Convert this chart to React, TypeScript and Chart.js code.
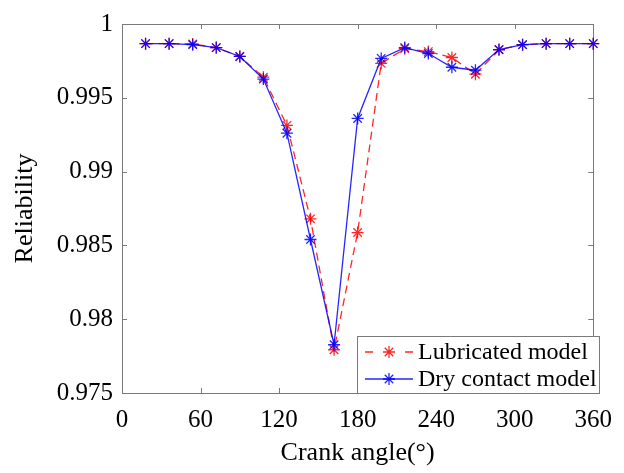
import React, { useEffect, useRef } from "react";
import { Chart, registerables } from "chart.js";

Chart.register(...registerables);

const crankAngles = [18, 36, 54, 72, 90, 108, 126, 144, 162, 180, 198, 216, 234, 252, 270, 288, 306, 324, 342, 360];
const lubricated = [0.99867, 0.99867, 0.99865, 0.9984, 0.9978, 0.9964, 0.99313, 0.9868, 0.97793, 0.98587, 0.99733, 0.99833, 0.99813, 0.99773, 0.9966, 0.99825, 0.9986, 0.99867, 0.99867, 0.99867];
const dryContact = [0.99867, 0.99867, 0.9986, 0.9984, 0.9978, 0.99627, 0.9926, 0.9854, 0.97827, 0.9936, 0.99767, 0.9984, 0.998, 0.99707, 0.99687, 0.99827, 0.9986, 0.99867, 0.99867, 0.99867];
const xTicks = [0, 60, 120, 180, 240, 300, 360];
const yTicks = [0.975, 0.98, 0.985, 0.99, 0.995, 1];
const seriesNames = ["Lubricated model", "Dry contact model"];

const FONT = "'Liberation Serif', 'Times New Roman', serif";
const RED = "rgba(255,0,0,0.85)";
const BLUE = "rgba(0,0,255,0.85)";
const FRAME = "#7a7a7a";

const framePlugin = {
  id: "frameTicks",
  beforeDatasetsDraw(chart: any) {
    const { ctx, chartArea: a, scales } = chart;
    ctx.save();
    ctx.strokeStyle = FRAME;
    ctx.lineWidth = 1;
    const tl = 5;
    ctx.beginPath();
    xTicks.forEach((v) => {
      const x = Math.round(scales.x.getPixelForValue(v)) + 0.5;
      ctx.moveTo(x, a.bottom);
      ctx.lineTo(x, a.bottom - tl);
      ctx.moveTo(x, a.top);
      ctx.lineTo(x, a.top + tl);
    });
    yTicks.forEach((v) => {
      const y = Math.round(scales.y.getPixelForValue(v)) + 0.5;
      ctx.moveTo(a.left, y);
      ctx.lineTo(a.left + tl, y);
      ctx.moveTo(a.right, y);
      ctx.lineTo(a.right - tl, y);
    });
    ctx.stroke();
    ctx.strokeRect(Math.round(a.left) + 0.5, Math.round(a.top) + 0.5, Math.round(a.right - a.left), Math.round(a.bottom - a.top));
    ctx.restore();
  },
  afterDraw(chart: any) {
    const { ctx, chartArea: a } = chart;
    ctx.save();
    const bx = 357.5, by = 336.5, bw = 242, bh = Math.round(a.bottom) - 336;
    ctx.fillStyle = "#ffffff";
    ctx.fillRect(bx, by, bw, bh);
    ctx.strokeStyle = FRAME;
    ctx.lineWidth = 1;
    ctx.strokeRect(bx, by, bw, bh);
    const rows = [
      { y: 352, color: RED, dash: [8, 5], name: seriesNames[0] },
      { y: 379, color: BLUE, dash: [], name: seriesNames[1] },
    ];
    rows.forEach((r) => {
      ctx.strokeStyle = r.color;
      ctx.lineWidth = 1.3;
      ctx.setLineDash(r.dash);
      ctx.beginPath();
      if (r.dash.length) {
        ctx.moveTo(365, r.y); ctx.lineTo(373, r.y);
        ctx.moveTo(405, r.y); ctx.lineTo(413, r.y);
      } else {
        ctx.moveTo(365, r.y); ctx.lineTo(413, r.y);
      }
      ctx.stroke();
      ctx.setLineDash([]);
      const cx = 389, rr = 6;
      ctx.beginPath();
      for (let i = 0; i < 4; i++) {
        const ang = (Math.PI / 4) * i;
        ctx.moveTo(cx - rr * Math.cos(ang), r.y - rr * Math.sin(ang));
        ctx.lineTo(cx + rr * Math.cos(ang), r.y + rr * Math.sin(ang));
      }
      ctx.stroke();
      ctx.fillStyle = "#000";
      ctx.font = `24px ${FONT}`;
      ctx.textBaseline = "middle";
      ctx.textAlign = "left";
      ctx.fillText(r.name, 418, r.y + 1);
    });
    ctx.restore();
  },
};

export default function App() {
  const ref = useRef<HTMLCanvasElement | null>(null);
  useEffect(() => {
    document.body.style.margin = "0";
    document.body.style.overflow = "hidden";
    const canvas = ref.current!;
    const chart = new Chart(canvas, {
      type: "line",
      data: {
        datasets: [
          {
            label: seriesNames[0],
            data: crankAngles.map((x, i) => ({ x, y: lubricated[i] })),
            borderColor: RED,
            backgroundColor: RED,
            borderWidth: 1.3,
            borderDash: [8, 5],
            pointStyle: "star",
            pointRadius: 6,
            pointBorderWidth: 1.3,
            pointBorderColor: RED,
            tension: 0,
            order: 2,
            clip: false as any,
          },
          {
            label: seriesNames[1],
            data: crankAngles.map((x, i) => ({ x, y: dryContact[i] })),
            borderColor: BLUE,
            backgroundColor: BLUE,
            borderWidth: 1.3,
            pointStyle: "star",
            pointRadius: 6,
            pointBorderWidth: 1.3,
            pointBorderColor: BLUE,
            tension: 0,
            order: 1,
            clip: false as any,
          },
        ],
      },
      options: {
        animation: false,
        responsive: false,
        devicePixelRatio: 1,
        layout: { padding: { top: 18, right: 23, left: 0, bottom: 0 } },
        plugins: { legend: { display: false }, tooltip: { enabled: false } },
        scales: {
          x: {
            type: "linear",
            min: 0,
            max: 360,
            afterBuildTicks: (s: any) => { s.ticks = xTicks.map((v) => ({ value: v })); },
            afterFit: (s: any) => { s.height = 80; },
            grid: { display: false, drawTicks: false },
            border: { display: false },
            ticks: { font: { family: FONT, size: 25 }, color: "#000", padding: 12, maxRotation: 0, autoSkip: false },
            title: { display: true, text: "Crank angle(°)", font: { family: FONT, size: 26 }, color: "#000", padding: { top: 0, bottom: 4 } },
          },
          y: {
            type: "linear",
            min: 0.975,
            max: 1,
            afterBuildTicks: (s: any) => { s.ticks = yTicks.map((v) => ({ value: v })); },
            afterFit: (s: any) => { s.width = 122; },
            grid: { display: false, drawTicks: false },
            border: { display: false },
            ticks: {
              font: { family: FONT, size: 25 },
              color: "#000",
              padding: 9,
              autoSkip: false,
              callback: (v: any) => String(+Number(v).toFixed(3)),
            },
            title: { display: true, text: "Reliability", font: { family: FONT, size: 26 }, color: "#000", padding: { top: 10, bottom: 0 } },
          },
        },
      },
      plugins: [framePlugin],
    });
    return () => chart.destroy();
  }, []);
  return <canvas ref={ref} width={624} height={473} style={{ display: "block", width: 624, height: 473 }} />;
}
